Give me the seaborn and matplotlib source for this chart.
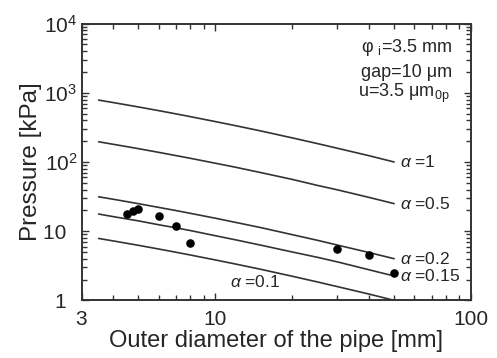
import numpy as np
import pandas as pd
import seaborn as sns
import matplotlib.pyplot as plt
from matplotlib.ticker import LogLocator, FixedLocator, FixedFormatter, NullFormatter

# model curves
diam = [3.5, 4, 5, 6, 7, 8, 10, 12, 15, 20, 25, 30, 40, 50]
p_a1 = [785, 722, 625, 553, 497, 452, 384, 335, 282, 223, 185, 158, 123, 100]
p_a05 = [196, 180, 156, 138, 124, 113, 96, 84, 70.5, 56, 46, 39.6, 30.7, 25]
p_a02 = [31.4, 28.9, 25.0, 22.1, 19.9, 18.1, 15.4, 13.4, 11.3, 8.9, 7.4, 6.3, 4.9, 4.0]
p_a015 = [17.7, 16.2, 14.1, 12.4, 11.2, 10.2, 8.6, 7.5, 6.3, 5.0, 4.2, 3.6, 2.76, 2.25]
p_a01 = [7.85, 7.22, 6.25, 5.53, 4.97, 4.52, 3.84, 3.35, 2.82, 2.23, 1.85, 1.58, 1.23, 1.0]
alphas = ["1", "0.5", "0.2", "0.15", "0.1"]

# measured points
meas_d = [4.5, 4.75, 5.0, 6.0, 7.0, 8.0, 30, 40, 50]
meas_p = [17.7, 19.4, 20.7, 16.8, 11.8, 6.8, 5.6, 4.5, 2.5]

curves = pd.concat(
    [pd.DataFrame({"d": diam, "p": p, "alpha": a})
     for a, p in zip(alphas, [p_a1, p_a05, p_a02, p_a015, p_a01])],
    ignore_index=True)
meas = pd.DataFrame({"d": meas_d, "p": meas_p})

sns.set_style("ticks")
plt.rcParams["font.family"] = ["Liberation Sans", "DejaVu Sans"]
plt.rcParams["mathtext.fontset"] = "custom"
plt.rcParams["mathtext.rm"] = "Liberation Sans"
plt.rcParams["mathtext.it"] = "Liberation Sans:italic"
plt.rcParams["mathtext.default"] = "regular"

fig = plt.figure(figsize=(4.97, 3.58), dpi=100)
ax = fig.add_axes([0.164, 0.161, 0.784, 0.773])

sns.lineplot(data=curves, x="d", y="p", units="alpha", estimator=None,
             color="#333333", linewidth=1.2, ax=ax)
sns.scatterplot(data=meas, x="d", y="p", color="black", s=38,
                edgecolor="black", linewidth=0, zorder=3, ax=ax)

ax.set_xscale("log")
ax.set_yscale("log")
ax.set_xlim(3, 100)
ax.set_ylim(1, 1e4)

ax.xaxis.set_major_locator(FixedLocator([3, 10, 100]))
ax.xaxis.set_major_formatter(FixedFormatter(["3", "10", "100"]))
ax.xaxis.set_minor_locator(LogLocator(base=10, subs=np.arange(2, 10)))
ax.xaxis.set_minor_formatter(NullFormatter())
ax.yaxis.set_major_locator(FixedLocator([1, 10, 100, 1000, 10000]))
ax.yaxis.set_major_formatter(FixedFormatter(
    ["1\u2002", "10\u2002", "$10^{2}$", "$10^{3}$", "$10^{4}$"]))
ax.yaxis.set_minor_locator(LogLocator(base=10, subs=np.arange(2, 10)))
ax.yaxis.set_minor_formatter(NullFormatter())

ax.tick_params(which="both", direction="in", top=True, right=True,
               color="#333333", width=1)
ax.tick_params(which="major", length=5)
ax.tick_params(which="minor", length=3.5)
ax.tick_params(axis="x", labelsize=15, pad=7)
ax.tick_params(axis="y", labelsize=15, pad=3)
for s in ax.spines.values():
    s.set_linewidth(1.4)
    s.set_color("#333333")

ax.set_xlabel("Outer diameter of the pipe [mm]", fontsize=17, labelpad=1)
ax.set_ylabel("Pressure [kPa]", fontsize=17.5, labelpad=1)

# curve labels
ends = [p_a1[-1], p_a05[-1], p_a02[-1], p_a015[-1]]
for a, p in zip(alphas[:4], ends):
    ax.text(52.5, p, r"$\mathit{\alpha}$ =" + a, fontsize=12.5, va="center", ha="left")
ax.text(11.4, 1.85, r"$\mathit{\alpha}$ =0.1", fontsize=12.5, va="center", ha="left")

ax.text(0.952, 0.915, "\u03c6 $_{\\mathrm{i}}$=3.5 mm", transform=ax.transAxes,
        fontsize=13, ha="right", va="center")
ax.text(0.952, 0.825, "gap=10 \u03bcm", transform=ax.transAxes,
        fontsize=13, ha="right", va="center")
ax.text(0.945, 0.749, "u=3.5 \u03bcm$_{0p}$", transform=ax.transAxes,
        fontsize=13, ha="right", va="center")

fig.savefig("out.png", dpi=100)
